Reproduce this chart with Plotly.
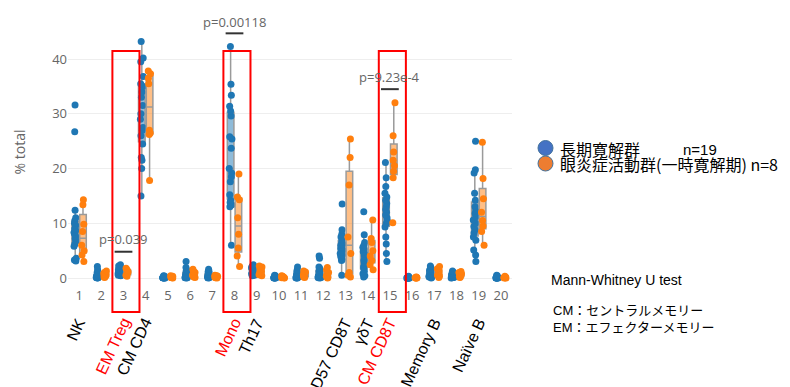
import plotly.graph_objects as go

# ---------------- data ----------------
categories = list(range(1, 21))
tick_labels = [str(c) for c in categories]

label_cats = [1, 3, 4, 8, 9, 13, 14, 15, 17, 19]
label_texts = ["NK", "EM Treg", "CM CD4", "Mono", "Th17", "CD57 CD8T", "γδT", "CM CD8T", "Memory B", "Naïve B"]
highlight_cats = [3, 8, 15]

blue_name = "長期寛解群"
orange_name = "眼炎症活動群(一時寛解期)"

blue_values = [
    [31.6, 26.7, 12.4, 11.0, 10.5, 10.0, 9.6, 9.0, 8.7, 8.3, 8.0, 7.6, 7.2, 6.8, 6.2, 5.8, 3.6, 3.3, 3.1],
    [2.1, 1.5, 1.0, 0.8, 0.6, 0.5, 0.4, 0.3, 0.3, 0.2, 0.2, 0.15, 0.1, 0.1, 0.1, 0.05, 0.05, 0.05, 0.0],
    [2.4, 2.2, 2.0, 1.8, 1.6, 1.5, 1.4, 1.3, 1.2, 1.1, 1.0, 0.9, 0.9, 0.8, 0.7, 0.6, 0.5, 0.5, 0.4],
    [43.2, 40.2, 39.5, 36.8, 35.5, 35.0, 34.0, 33.0, 31.5, 30.0, 29.0, 27.5, 27.0, 26.0, 24.5, 22.0, 21.5, 20.0, 15.0],
    [0.4, 0.3, 0.3, 0.2, 0.2, 0.2, 0.15, 0.1, 0.1, 0.1, 0.1, 0.05, 0.05, 0.05, 0.05, 0.03, 0.02, 0.01, 0.0],
    [3.0, 1.9, 1.5, 1.2, 1.0, 0.8, 0.6, 0.5, 0.4, 0.3, 0.3, 0.2, 0.2, 0.1, 0.1, 0.1, 0.05, 0.05, 0.0],
    [1.6, 1.3, 1.1, 1.0, 0.8, 0.7, 0.6, 0.5, 0.4, 0.4, 0.3, 0.3, 0.2, 0.2, 0.1, 0.1, 0.1, 0.05, 0.0],
    [42.3, 35.4, 33.4, 31.4, 30.5, 29.6, 25.8, 25.4, 23.7, 20.0, 19.2, 18.5, 17.6, 15.2, 14.2, 13.8, 13.4, 13.0, 6.0],
    [2.4, 2.2, 2.0, 1.9, 1.8, 1.7, 1.6, 1.5, 1.4, 1.3, 1.2, 1.1, 1.0, 0.9, 0.8, 0.7, 0.6, 0.5, 0.4],
    [0.5, 0.4, 0.3, 0.3, 0.2, 0.2, 0.2, 0.15, 0.1, 0.1, 0.1, 0.1, 0.05, 0.05, 0.05, 0.03, 0.02, 0.01, 0.0],
    [2.0, 1.5, 1.2, 1.0, 0.8, 0.6, 0.5, 0.4, 0.3, 0.3, 0.2, 0.2, 0.15, 0.1, 0.1, 0.05, 0.05, 0.0, 0.0],
    [4.0, 3.6, 2.0, 1.8, 1.5, 1.2, 1.0, 0.8, 0.6, 0.5, 0.4, 0.3, 0.3, 0.2, 0.2, 0.1, 0.1, 0.05, 0.0],
    [13.5, 8.8, 8.0, 7.5, 7.0, 6.5, 6.2, 6.0, 5.7, 5.4, 5.1, 4.8, 4.5, 4.2, 4.0, 3.7, 3.4, 3.2, 0.5],
    [12.1, 7.9, 6.5, 6.0, 5.6, 5.2, 4.8, 4.4, 4.0, 3.6, 3.2, 2.8, 2.4, 2.0, 1.6, 1.2, 0.8, 0.4, 0.2],
    [21.1, 18.3, 16.7, 15.5, 14.8, 14.2, 13.6, 13.0, 12.5, 12.0, 11.5, 11.0, 10.5, 10.0, 9.3, 7.5, 6.2, 4.5, 3.0],
    [0.3, 0.2, 0.2, 0.15, 0.1, 0.1, 0.1, 0.05, 0.05, 0.05, 0.03, 0.03, 0.02, 0.02, 0.01, 0.01, 0.0, 0.0, 0.0],
    [2.2, 1.9, 1.6, 1.4, 1.2, 1.0, 0.9, 0.8, 0.7, 0.6, 0.5, 0.4, 0.4, 0.3, 0.3, 0.2, 0.2, 0.1, 0.0],
    [1.3, 1.1, 1.0, 0.9, 0.8, 0.7, 0.6, 0.5, 0.5, 0.4, 0.3, 0.3, 0.2, 0.2, 0.1, 0.1, 0.1, 0.05, 0.0],
    [25.0, 19.8, 19.2, 15.5, 14.2, 13.0, 12.3, 11.8, 11.2, 10.6, 10.0, 9.4, 8.8, 8.2, 7.5, 6.9, 5.1, 4.2, 3.0],
    [0.5, 0.4, 0.3, 0.2, 0.2, 0.15, 0.1, 0.1, 0.1, 0.05, 0.05, 0.05, 0.03, 0.03, 0.02, 0.01, 0.01, 0.0, 0.0],
]

orange_values = [
    [14.3, 13.4, 9.8, 8.5, 6.0, 5.0, 4.2, 3.0],
    [1.3, 1.0, 0.8, 0.6, 0.4, 0.3, 0.2, 0.1],
    [1.8, 1.5, 1.3, 1.1, 0.9, 0.7, 0.5, 0.3],
    [37.8, 37.3, 36.5, 35.5, 27.0, 26.5, 26.2, 17.8],
    [0.4, 0.3, 0.2, 0.15, 0.1, 0.1, 0.05, 0.0],
    [1.6, 1.2, 1.0, 0.7, 0.5, 0.3, 0.2, 0.1],
    [0.5, 0.4, 0.3, 0.2, 0.15, 0.1, 0.05, 0.0],
    [19.0, 14.8, 14.3, 11.0, 8.0, 5.5, 4.0, 2.1],
    [2.2, 2.0, 1.7, 1.5, 1.2, 0.9, 0.6, 0.4],
    [0.4, 0.3, 0.2, 0.15, 0.1, 0.05, 0.03, 0.0],
    [1.3, 1.1, 0.9, 0.6, 0.4, 0.3, 0.2, 0.1],
    [1.9, 1.5, 1.0, 0.5, 0.3, 0.2, 0.1, 0.0],
    [25.4, 22.0, 17.0, 7.5, 4.5, 1.0, 0.5, 0.2],
    [10.6, 7.2, 6.5, 5.0, 4.0, 3.2, 2.4, 1.5],
    [32.0, 26.0, 23.0, 21.5, 20.5, 19.5, 18.3, 10.1],
    [0.2, 0.15, 0.1, 0.05, 0.05, 0.02, 0.01, 0.0],
    [2.1, 1.7, 1.3, 1.0, 0.7, 0.5, 0.3, 0.1],
    [1.2, 1.0, 0.8, 0.6, 0.4, 0.3, 0.2, 0.1],
    [24.8, 18.2, 14.5, 12.0, 10.5, 9.5, 8.5, 6.0],
    [0.3, 0.2, 0.1, 0.1, 0.05, 0.03, 0.01, 0.0],
]

p_cats = [3, 8, 15]
p_texts = ["p=0.039", "p=0.00118", "p=9.23e-4"]
p_text_y = [7.1, 46.8, 36.8]
p_line_y = [4.8, 44.7, 34.5]

y_ticks = [0, 10, 20, 30, 40]

# ---------------- layout geometry ----------------
W_FIG, H_FIG = 790, 387
M_L, M_R, M_T, M_B = 68, 278, 18, 101
PW = W_FIG - M_L - M_R
PH = H_FIG - M_T - M_B


def fx(px):
    return (px - M_L) / PW


def fy(py):
    return (M_T + PH - py) / PH


BLUE = "#1f77b4"
ORANGE = "#ff7f0e"

fig = go.Figure()


def build(values):
    xs, ys = [], []
    for c, vals in zip(categories, values):
        xs += [c] * len(vals)
        ys += vals
    return xs, ys


for name, vals, col, fill in [
    (blue_name, blue_values, BLUE, "rgba(31,119,180,0.5)"),
    (orange_name, orange_values, ORANGE, "rgba(255,127,14,0.5)"),
]:
    xs, ys = build(vals)
    fig.add_trace(go.Box(
        x=xs, y=ys, name=name,
        boxpoints="all", pointpos=0, jitter=0.5,
        marker=dict(color=col, size=7, opacity=1),
        line=dict(color="#9a9a9a", width=1.5),
        fillcolor=fill,
        showlegend=False,
    ))

shapes = []
annotations = []

# highlight rectangles
for c in highlight_cats:
    shapes.append(dict(type="rect", xref="x", yref="paper",
                       x0=c - 0.5, x1=c + 0.72, y0=fy(312), y1=fy(51),
                       line=dict(color="#ff0000", width=2), layer="above"))

# p-value marks
for c, t, ty, ly in zip(p_cats, p_texts, p_text_y, p_line_y):
    shapes.append(dict(type="line", xref="x", yref="y",
                       x0=c - 0.4, x1=c + 0.4, y0=ly, y1=ly,
                       line=dict(color="#333333", width=2)))
    annotations.append(dict(x=c, y=ty, xref="x", yref="y", text=t,
                            showarrow=False, font=dict(size=13, color="#666666")))

# rotated cell labels
for c, t in zip(label_cats, label_texts):
    col = "#ff0000" if c in highlight_cats else "#000000"
    annotations.append(dict(x=c + 0.55, y=fy(313), xref="x", yref="paper", text=t,
                            showarrow=False, textangle=-65,
                            xanchor="right", yanchor="top",
                            font=dict(size=16, color=col,
                                      family="Liberation Sans, Arial, sans-serif")))

# custom legend
for cy, col in [(148, "#4472C4"), (163.5, "#ED7D31")]:
    shapes.append(dict(type="circle", xref="paper", yref="paper",
                       x0=fx(538), x1=fx(553), y0=fy(cy + 7.5), y1=fy(cy - 7.5),
                       fillcolor=col, line=dict(color="#41719C", width=1)))

jp_font = "Liberation Sans, Noto Sans CJK JP, sans-serif"
annotations += [
    dict(x=fx(558), y=fy(149.5), xref="paper", yref="paper", text=blue_name,
         showarrow=False, xanchor="left", yanchor="middle",
         font=dict(size=16, color="#000", family="Noto Sans CJK JP")),
    dict(x=fx(681), y=fy(149.5), xref="paper", yref="paper", text="n=19",
         showarrow=False, xanchor="left", yanchor="middle",
         font=dict(size=15, color="#000", family=jp_font)),
    dict(x=fx(558), y=fy(164), xref="paper", yref="paper", text=orange_name + " n=8",
         showarrow=False, xanchor="left", yanchor="middle",
         font=dict(size=16, color="#000", family="Noto Sans CJK JP")),
    dict(x=fx(549), y=fy(280), xref="paper", yref="paper", text="Mann-Whitney U test",
         showarrow=False, xanchor="left", yanchor="middle",
         font=dict(size=14, color="#000", family=jp_font)),
    dict(x=fx(551), y=fy(310), xref="paper", yref="paper", text="CM：セントラルメモリー",
         showarrow=False, xanchor="left", yanchor="middle",
         font=dict(size=13, color="#000", family=jp_font)),
    dict(x=fx(551), y=fy(327), xref="paper", yref="paper", text="EM：エフェクターメモリー",
         showarrow=False, xanchor="left", yanchor="middle",
         font=dict(size=13, color="#000", family=jp_font)),
]

fig.update_layout(
    width=W_FIG, height=H_FIG,
    margin=dict(l=M_L, r=M_R, t=M_T, b=M_B),
    paper_bgcolor="white", plot_bgcolor="white",
    boxmode="group", boxgap=0.3, boxgroupgap=0.15,
    font=dict(family="Open Sans, sans-serif", color="#666666", size=13),
    xaxis=dict(range=[0.5, 20.5], tickmode="array", tickvals=categories,
               ticktext=tick_labels, showgrid=False, zeroline=False,
               showline=False, tickfont=dict(size=13, color="#666666")),
    yaxis=dict(range=[-1.46, 47.5], tickvals=y_ticks, showgrid=True,
               gridcolor="#eeeeee", zeroline=False, showline=False,
               tickfont=dict(size=13, color="#666666"),
               title=dict(text="% total", font=dict(size=14, color="#666666"), standoff=23)),
    shapes=shapes, annotations=annotations,
)

fig.write_html("out.html", config={"displayModeBar": False},
               post_script="document.body.style.margin='0';document.body.style.overflow='hidden';")
